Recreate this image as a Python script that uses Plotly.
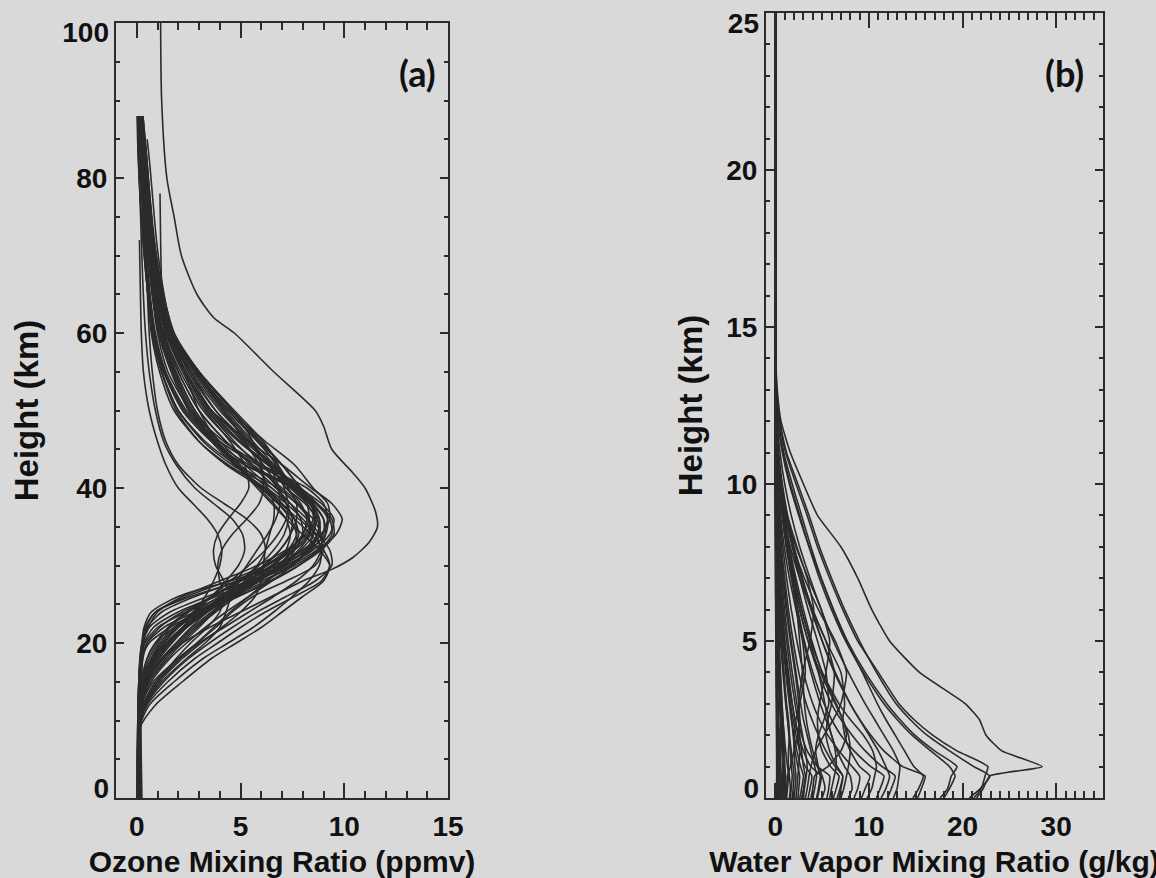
import plotly.graph_objects as go

# ---------------- Panel (a): ozone mixing ratio profiles ----------------
ozone_heights = [0, 9, 12, 15, 18, 20, 22, 24, 26, 28, 30, 32, 34, 36, 38, 40, 43, 46, 50, 55, 60, 66, 72, 78, 82, 85, 88]

ozone_profiles = [
    [0.04, 0.05, 0.08, 0.12, 0.2, 0.4, 1.0, 2.4, 4.2, 6.0, 7.6, 8.8, 9.4, 9.3, 8.6, 7.6, 6.0, 4.6, 3.2, 2.1, 1.3, 0.85, 0.6, 0.42, 0.32, 0.25, 0.18],
    [0.05, 0.06, 0.08, 0.1, 0.18, 0.3, 0.6, 1.6, 3.4, 5.4, 7.2, 8.5, 9.3, 9.5, 8.9, 7.9, 7.0, 5.9, 4.4, 2.9, 1.6, 1.0, 0.6, 0.35, 0.2, 0.12, None],
    [0.03, 0.05, 0.07, 0.1, 0.15, 0.25, 0.5, 1.2, 2.8, 4.8, 6.6, 8.0, 8.9, 9.2, 9.0, 8.2, 6.0, 4.2, 2.6, 1.5, 1.0, 0.7, 0.5, 0.4, 0.33, 0.28, None],
    [0.06, 0.07, 0.09, 0.12, 0.22, 0.5, 1.3, 2.8, 4.6, 6.2, 7.4, 8.3, 8.8, 8.7, 8.1, 7.2, 6.4, 5.4, 4.0, 2.6, 1.5, 0.95, 0.6, 0.4, 0.28, 0.2, 0.14],
    [0.04, 0.05, 0.07, 0.1, 0.2, 0.35, 0.8, 2.0, 3.8, 5.7, 7.4, 8.7, 9.6, 9.9, 9.4, 8.4, 7.0, 5.4, 3.6, 2.3, 1.4, 0.9, 0.6, 0.4, 0.3, 0.22, 0.15],
    [0.05, 0.06, 0.08, 0.11, 0.17, 0.28, 0.55, 1.0, 2.2, 4.0, 5.8, 7.2, 8.2, 8.6, 8.4, 7.8, 5.8, 4.0, 2.4, 1.4, 0.9, 0.6, 0.42, 0.32, 0.26, None, None],
    [0.04, 0.05, 0.07, 0.1, 0.16, 0.25, 0.45, 0.9, 2.4, 4.4, 6.2, 7.6, 8.4, 8.7, 8.5, 7.9, 7.0, 6.0, 4.6, 3.0, 1.7, 1.15, 0.82, 0.6, 0.5, 0.4, 0.3],
    [0.05, 0.06, 0.08, 0.12, 0.25, 0.6, 1.6, 3.0, 4.8, 6.4, 7.8, 8.9, 9.5, 9.4, 8.7, 7.6, 5.2, 3.6, 2.2, 1.3, 0.8, 0.5, 0.3, 0.15, 0.08, 0.04, 0.02],
    [0.05, 0.07, 0.15, 0.4, 1.0, 1.6, 2.4, 3.4, 4.6, 5.8, 6.8, 7.6, 8.0, 7.9, 7.4, 6.7, 5.5, 4.3, 3.0, 2.0, 1.25, 0.8, 0.55, 0.38, 0.28, 0.2, 0.15],
    [0.06, 0.08, 0.18, 0.5, 1.2, 1.9, 2.7, 3.6, 4.7, 5.8, 6.8, 7.5, 7.8, 7.6, 7.0, 6.2, 4.4, 3.0, 1.8, 1.1, 0.7, 0.5, 0.35, 0.25, 0.18, 0.13, None],
    [0.05, 0.07, 0.14, 0.35, 0.8, 1.3, 2.0, 3.0, 4.2, 5.4, 6.5, 7.4, 8.0, 8.2, 7.9, 7.2, 6.4, 5.4, 4.1, 2.7, 1.5, 0.9, 0.5, 0.26, 0.14, 0.08, 0.04],
    [0.04, 0.06, 0.12, 0.3, 0.7, 1.1, 1.8, 2.8, 4.0, 5.3, 6.5, 7.5, 8.3, 8.6, 8.4, 7.7, 6.3, 4.9, 3.4, 2.3, 1.5, 1.05, 0.8, 0.62, 0.5, 0.4, 0.3],
    [0.06, 0.08, 0.2, 0.6, 1.4, 2.1, 2.9, 3.8, 4.8, 5.9, 7.0, 7.9, 8.5, 8.6, 8.2, 7.4, 6.6, 5.6, 4.3, 2.8, 1.6, 1.0, 0.65, 0.44, 0.31, 0.22, 0.16],
    [0.05, 0.07, 0.16, 0.45, 1.1, 1.7, 2.4, 3.2, 4.1, 5.0, 5.9, 6.6, 7.1, 7.3, 7.2, 6.8, 5.8, 4.7, 3.4, 2.3, 1.5, 1.0, 0.7, 0.5, 0.36, 0.27, None],
    [0.05, 0.07, 0.13, 0.32, 0.75, 1.2, 1.9, 2.9, 4.3, 5.8, 7.1, 8.1, 8.7, 8.8, 8.4, 7.6, 5.4, 3.8, 2.3, 1.3, 0.8, 0.5, 0.3, 0.16, 0.09, 0.05, None],
    [0.06, 0.08, 0.17, 0.5, 1.3, 2.0, 2.8, 3.7, 4.6, 5.4, 6.2, 6.9, 7.4, 7.7, 7.7, 7.3, 6.7, 5.9, 4.6, 3.0, 1.8, 1.2, 0.85, 0.62, 0.48, 0.38, 0.28],
    [0.04, 0.06, 0.1, 0.25, 0.6, 1.0, 1.6, 2.5, 3.7, 5.0, 6.3, 7.3, 8.0, 8.3, 8.2, 7.7, 6.6, 5.3, 3.8, 2.5, 1.6, 1.0, 0.7, 0.48, 0.35, 0.26, 0.19],
    [0.05, 0.07, 0.15, 0.4, 0.9, 1.45, 2.2, 3.1, 4.3, 5.6, 6.9, 8.0, 8.9, 9.3, 9.2, 8.5, 7.6, 6.2, 4.5, 2.9, 1.7, 1.05, 0.68, 0.45, 0.3, 0.22, 0.16],
    [0.06, 0.08, 0.2, 0.55, 1.25, 1.9, 2.6, 3.4, 4.3, 5.2, 6.1, 6.9, 7.4, 7.5, 7.2, 6.5, 4.6, 3.2, 2.0, 1.2, 0.75, 0.5, 0.35, 0.25, 0.18, None, None],
    [0.05, 0.07, 0.14, 0.38, 0.9, 1.5, 2.3, 3.3, 4.5, 5.6, 6.6, 7.3, 7.7, 7.6, 7.0, 6.1, 4.8, 3.7, 2.6, 1.75, 1.1, 0.72, 0.5, 0.34, 0.25, 0.18, None],
    [0.08, 0.12, 0.6, 1.8, 3.2, 4.4, 5.6, 6.6, 7.5, 8.3, 8.8, 8.9, 8.6, 8.0, 7.2, 6.3, 5.0, 3.8, 2.6, 1.7, 1.1, 0.72, 0.5, 0.35, 0.25, 0.18, None],
    [0.07, 0.1, 0.5, 1.5, 2.8, 3.9, 5.0, 6.2, 7.6, 8.9, 9.3, 9.0, 8.4, 7.6, 6.8, 6.0, 4.3, 3.0, 1.9, 1.2, 0.8, 0.55, 0.38, 0.26, 0.19, 0.14, 0.1],
    [0.08, 0.11, 0.45, 1.3, 2.5, 3.5, 4.6, 5.8, 7.2, 8.6, 9.4, 9.3, 8.7, 7.8, 6.9, 6.0, 4.7, 3.6, 2.5, 1.65, 1.05, 0.7, 0.48, 0.33, 0.24, None, None],
    [0.06, 0.09, 0.4, 1.1, 2.2, 3.1, 4.1, 5.0, 5.7, 6.0, 6.1, 6.2, 6.4, 6.6, 6.6, 6.3, 5.9, 5.2, 4.2, 2.8, 1.6, 1.0, 0.68, 0.46, 0.33, 0.24, 0.17],
    [0.07, 0.1, 0.3, 0.9, 2.0, 2.9, 3.8, 4.6, 5.6, 7.2, 8.6, 9.0, 8.8, 8.2, 7.4, 6.5, 5.2, 4.0, 2.8, 1.85, 1.2, 0.78, 0.53, 0.37, 0.27, 0.2, None],
    [0.06, 0.09, 0.35, 1.0, 1.9, 2.6, 3.4, 4.0, 4.2, 4.0, 3.9, 4.1, 4.6, 5.3, 5.9, 6.1, 6.0, 5.6, 4.6, 3.0, 1.7, 1.1, 0.75, 0.52, 0.38, 0.28, 0.2],
    [0.07, 0.1, 0.4, 1.2, 2.4, 3.3, 4.0, 4.3, 4.5, 4.2, 3.8, 3.7, 3.9, 4.4, 5.0, 5.4, 5.2, 4.5, 3.3, 2.2, 1.4, 0.92, 0.63, 0.44, 0.32, None, None],
    [0.05, 0.07, 0.15, 0.4, 1.0, 1.6, 2.2, 2.8, 3.3, 3.7, 4.0, 4.1, 3.9, 3.4, 2.7, 2.0, 1.4, 1.0, 0.6, 0.32, 0.22, 0.17, 0.13, None, None, None, None],
    [0.05, 0.07, 0.12, 0.3, 0.8, 1.3, 2.0, 2.8, 3.6, 4.3, 4.9, 5.2, 5.1, 4.6, 3.7, 2.8, 1.9, 1.3, 0.9, 0.6, 0.42, 0.3, 0.22, 0.15, 0.1, 0.06, 0.04],
    [0.05, 0.07, 0.14, 0.35, 0.9, 1.5, 2.3, 3.2, 4.1, 5.0, 5.8, 6.2, 6.0, 5.3, 4.2, 3.1, 2.0, 1.4, 1.0, 0.75, 0.6, 0.5, 0.42, 0.36, 0.3, 0.25, 0.2],
    [0.05, 0.07, 0.15, 0.4, 1.0, 1.6, 2.4, 3.4, 4.6, 5.8, 6.9, 7.8, 8.3, 8.3, 7.8, 7.0, 5.6, 4.3, 3.0, 2.0, 1.35, 1.2, 1.15, 1.12, None, None, None],
    [0.15, 0.12, 0.14, 0.18, 0.22, 0.25, 0.35, 0.7, 2.0, 4.5, 6.8, 8.3, 9.1, 9.2, 8.7, 7.9, 6.4, 5.0, 3.5, 2.4, 1.5, 1.0, 0.7, 0.5, 0.38, 0.3, None],
    [0.2, 0.18, 0.2, 0.22, 0.25, 0.3, 0.4, 0.9, 2.6, 5.0, 7.0, 8.2, 8.8, 8.8, 8.3, 7.5, 6.8, 5.8, 4.4, 2.9, 1.7, 1.1, 0.75, 0.52, 0.4, 0.3, 0.24],
    [0.1, 0.1, 0.2, 0.8, 2.0, 3.0, 4.2, 5.4, 6.6, 7.7, 8.5, 8.9, 8.9, 8.5, 7.7, 6.8, 4.8, 3.3, 2.0, 1.2, 0.75, 0.55, 0.38, 0.27, 0.2, 0.15, 0.11],
    [0.12, 0.15, 0.9, 2.2, 3.6, 4.8, 6.0, 7.0, 8.0, 9.0, 9.3, 8.8, 8.0, 7.2, 6.5, 5.8, 4.8, 3.8, 2.7, 1.8, 1.15, 0.75, 0.5, 0.34, 0.25, 0.18, None],
    [0.03, 0.05, 0.1, 0.3, 0.8, 1.4, 2.2, 3.2, 4.4, 5.6, 6.6, 7.2, 7.4, 7.2, 6.6, 5.9, 4.8, 3.9, 3.0, 2.3, 1.7, 1.25, 0.95, 0.75, 0.62, 0.5, None],
    [0.02, 0.04, 0.08, 0.2, 0.5, 0.9, 1.5, 2.4, 3.6, 4.9, 6.2, 7.3, 8.1, 8.5, 8.4, 7.8, 6.5, 5.2, 3.6, 2.3, 1.4, 0.85, 0.5, 0.3, 0.18, 0.1, 0.06],
    [0.25, 0.2, 0.22, 0.3, 0.5, 0.9, 1.8, 3.2, 4.9, 6.5, 7.8, 8.7, 9.1, 9.0, 8.4, 7.5, 5.2, 3.7, 2.3, 1.35, 0.85, 0.6, 0.42, 0.3, 0.22, 0.17, None],
    [0.08, 0.1, 0.3, 1.0, 2.1, 2.9, 3.7, 4.5, 5.4, 6.3, 7.1, 7.6, 7.7, 7.4, 6.8, 6.0, 4.9, 3.9, 2.8, 1.9, 1.25, 0.82, 0.56, 0.4, 0.3, 0.22, 0.16],
    [0.1, 0.12, 0.25, 0.7, 1.6, 2.4, 3.3, 4.3, 5.4, 6.5, 7.5, 8.2, 8.5, 8.3, 7.7, 6.9, 6.4, 5.5, 4.2, 2.8, 1.6, 1.0, 0.65, 0.44, 0.32, 0.23, None],
    [0.18, 0.15, 0.17, 0.2, 0.3, 0.5, 1.1, 2.2, 3.8, 5.6, 7.2, 8.4, 9.0, 9.0, 8.5, 7.7, 6.3, 5.0, 3.6, 2.5, 1.65, 1.1, 0.78, 0.56, 0.42, 0.33, 0.25],
    [0.05, 0.07, 0.12, 0.3, 0.7, 1.2, 1.9, 2.7, 3.6, 4.5, 5.4, 6.2, 6.8, 7.2, 7.3, 7.1, 6.8, 6.1, 4.7, 3.0, 1.8, 1.2, 0.82, 0.58, 0.42, 0.3, 0.22],
    [0.06, 0.08, 0.2, 0.6, 1.5, 2.2, 3.0, 3.7, 4.3, 4.8, 5.3, 5.8, 6.3, 6.7, 6.9, 6.8, 6.1, 5.1, 3.8, 2.6, 1.7, 1.12, 0.78, 0.55, 0.4, 0.3, None],
]

ozone_outlier_heights = [0, 9, 12, 15, 18, 20, 22, 24, 26, 28, 29.5, 31, 33, 35, 37, 40, 42, 45, 48, 50, 55, 60, 62, 65, 70, 75, 80, 90, 100]
ozone_outlier_values = [0.05, 0.07, 0.2, 0.5, 1.2, 2.2, 3.5, 5.0, 6.5, 8.0, 9.4, 10.4, 11.2, 11.6, 11.5, 11.0, 10.4, 9.4, 9.0, 8.6, 6.6, 4.7, 3.7, 2.9, 2.15, 1.8, 1.45, 1.2, 1.15]

# ---------------- Panel (b): water vapour mixing ratio profiles ----------------
wv_heights = [0, 0.3, 0.7, 1.0, 1.5, 2, 2.5, 3, 4, 5, 6, 7, 8, 9, 10, 11, 12, 13, 14, 15, 25]

wv_profiles = [
    [21.5, 22.2, 22.9, 28.5, 24.2, 22.5, 21.8, 20.3, 15.4, 12.2, 10.3, 8.8, 7.0, 4.5, 3.0, 1.6, 0.6, 0.2, 0.05, 0.01, 0.0],
    [20.7, 21.9, 22.9, 21.2, 18.6, 16.2, 14.4, 12.9, 10.8, 9.0, 7.4, 6.0, 4.7, 3.6, 2.4, 1.2, 0.5, 0.15, 0.04, 0.0, 0.0],
    [21.2, 22.0, 22.4, 22.7, 19.4, 16.8, 14.8, 13.2, 11.0, 8.8, 7.2, 5.8, 4.5, 3.4, 2.2, 1.1, 0.45, 0.12, 0.03, 0.0, 0.0],
    [17.6, 18.4, 18.8, 19.4, 17.0, 14.9, 13.3, 11.9, 9.6, 7.7, 6.2, 4.9, 3.8, 2.8, 1.8, 0.9, 0.35, 0.1, 0.02, 0.0, 0.0],
    [18.0, 18.6, 19.2, 18.6, 16.6, 14.6, 13.0, 11.6, 9.4, 7.5, 6.0, 4.7, 3.6, 2.6, 1.6, 0.8, 0.3, 0.08, 0.02, 0.0, 0.0],
    [14.7, 15.3, 15.8, 14.8, 13.8, 12.8, 11.8, 10.9, 9.3, 7.6, 6.2, 4.9, 3.6, 2.5, 1.5, 0.75, 0.3, 0.08, 0.02, 0.0, 0.0],
    [12.6, 13.0, 13.2, 13.3, 12.6, 11.6, 10.6, 9.6, 7.8, 6.2, 4.9, 3.7, 2.6, 1.7, 1.0, 0.5, 0.2, 0.05, 0.01, 0.0, 0.0],
    [11.3, 11.8, 12.2, 11.8, 11.0, 10.0, 9.0, 8.0, 6.3, 5.0, 3.9, 2.9, 2.0, 1.3, 0.75, 0.35, 0.12, 0.03, 0.0, 0.0, 0.0],
    [9.8, 10.3, 10.6, 10.8, 10.4, 9.4, 8.0, 6.8, 5.0, 3.9, 3.0, 2.2, 1.5, 0.95, 0.55, 0.25, 0.08, 0.02, 0.0, 0.0, 0.0],
    [9.2, 9.6, 10.1, 9.0, 8.0, 7.4, 7.2, 7.4, 7.0, 5.4, 4.0, 2.8, 1.9, 1.2, 0.65, 0.3, 0.1, 0.02, 0.0, 0.0, 0.0],
    [7.8, 8.2, 8.0, 7.4, 6.6, 6.0, 5.6, 5.3, 4.6, 3.7, 2.8, 2.1, 1.4, 0.9, 0.5, 0.22, 0.07, 0.02, 0.0, 0.0, 0.0],
    [6.6, 6.9, 7.2, 6.6, 5.8, 5.4, 5.6, 6.0, 6.3, 5.4, 3.9, 2.6, 1.6, 0.95, 0.5, 0.22, 0.07, 0.02, 0.0, 0.0, 0.0],
    [6.2, 6.5, 6.8, 5.9, 5.0, 4.6, 4.5, 4.7, 5.4, 5.8, 4.9, 3.5, 2.2, 1.2, 0.6, 0.25, 0.08, 0.02, 0.0, 0.0, 0.0],
    [5.0, 5.3, 5.0, 4.6, 4.3, 4.6, 5.2, 5.7, 5.4, 4.5, 3.5, 2.6, 1.8, 1.1, 0.6, 0.26, 0.08, 0.02, 0.0, 0.0, 0.0],
    [4.4, 4.6, 4.8, 4.5, 4.0, 3.6, 3.3, 3.1, 2.9, 2.6, 2.3, 1.9, 1.4, 0.9, 0.5, 0.22, 0.07, 0.02, 0.0, 0.0, 0.0],
    [3.8, 4.0, 4.2, 5.6, 7.0, 7.6, 7.2, 6.4, 4.8, 3.5, 2.6, 1.9, 1.3, 0.8, 0.45, 0.2, 0.06, 0.02, 0.0, 0.0, 0.0],
    [3.2, 3.4, 3.6, 3.8, 4.3, 5.2, 6.2, 7.0, 7.6, 6.4, 4.6, 3.1, 1.9, 1.0, 0.5, 0.2, 0.06, 0.02, 0.0, 0.0, 0.0],
    [2.8, 3.0, 3.2, 3.0, 2.8, 2.6, 2.5, 2.5, 2.9, 3.7, 4.1, 3.4, 2.3, 1.3, 0.6, 0.25, 0.08, 0.02, 0.0, 0.0, 0.0],
    [8.4, 8.8, 9.0, 8.2, 6.8, 5.6, 4.7, 4.0, 3.0, 2.3, 1.7, 1.2, 0.8, 0.5, 0.28, 0.12, 0.04, 0.01, 0.0, 0.0, 0.0],
    [10.8, 11.2, 11.6, 10.2, 8.4, 7.0, 6.0, 5.2, 4.0, 3.1, 2.4, 1.8, 1.2, 0.75, 0.42, 0.18, 0.06, 0.02, 0.0, 0.0, 0.0],
    [7.0, 7.3, 7.6, 7.8, 8.0, 7.8, 7.2, 6.5, 5.0, 3.8, 2.8, 2.0, 1.35, 0.85, 0.48, 0.2, 0.06, 0.02, 0.0, 0.0, 0.0],
    [5.8, 6.0, 6.3, 6.5, 6.4, 6.0, 5.4, 4.8, 3.8, 3.0, 2.3, 1.7, 1.15, 0.72, 0.4, 0.18, 0.05, 0.01, 0.0, 0.0, 0.0],
    [1.8, 1.9, 2.0, 1.9, 1.7, 1.5, 1.3, 1.1, 0.8, 0.55, 0.38, 0.25, 0.15, 0.08, 0.04, 0.02, 0.01, 0.0, 0.0, 0.0, 0.0],
    [1.2, 1.3, 1.4, 1.3, 1.1, 0.95, 0.8, 0.7, 0.5, 0.35, 0.24, 0.15, 0.09, 0.05, 0.03, 0.01, 0.0, 0.0, 0.0, 0.0, 0.0],
    [0.8, 0.85, 0.9, 0.85, 0.75, 0.65, 0.55, 0.45, 0.32, 0.22, 0.15, 0.1, 0.06, 0.03, 0.02, 0.01, 0.0, 0.0, 0.0, 0.0, 0.0],
    [0.5, 0.55, 0.6, 0.55, 0.5, 0.42, 0.36, 0.3, 0.2, 0.14, 0.09, 0.06, 0.04, 0.02, 0.01, 0.0, 0.0, 0.0, 0.0, 0.0, 0.0],
    [0.3, 0.32, 0.35, 0.33, 0.3, 0.26, 0.22, 0.18, 0.12, 0.08, 0.05, 0.03, 0.02, 0.01, 0.0, 0.0, 0.0, 0.0, 0.0, 0.0, 0.0],
    [2.6, 2.8, 3.0, 2.7, 2.3, 2.0, 1.7, 1.5, 1.1, 0.8, 0.55, 0.36, 0.22, 0.12, 0.06, 0.03, 0.01, 0.0, 0.0, 0.0, 0.0],
    [3.5, 3.7, 3.9, 3.2, 2.6, 2.2, 1.9, 1.6, 1.2, 0.9, 0.65, 0.45, 0.28, 0.16, 0.08, 0.04, 0.02, 0.0, 0.0, 0.0, 0.0],
    [1.5, 1.6, 1.5, 1.4, 1.4, 1.5, 1.4, 1.2, 0.9, 0.6, 0.4, 0.26, 0.16, 0.09, 0.05, 0.02, 0.01, 0.0, 0.0, 0.0, 0.0],
    [0.2, 0.22, 0.25, 0.24, 0.22, 0.2, 0.17, 0.14, 0.1, 0.07, 0.05, 0.03, 0.02, 0.01, 0.0, 0.0, 0.0, 0.0, 0.0, 0.0, 0.0],
    [1.0, 1.05, 1.1, 1.0, 0.9, 0.8, 0.7, 0.6, 0.45, 0.32, 0.22, 0.14, 0.08, 0.05, 0.02, 0.01, 0.0, 0.0, 0.0, 0.0, 0.0],
    [0.6, 0.65, 0.7, 0.75, 0.8, 0.7, 0.6, 0.5, 0.35, 0.25, 0.17, 0.11, 0.07, 0.04, 0.02, 0.01, 0.0, 0.0, 0.0, 0.0, 0.0],
    [4.5, 4.7, 4.9, 3.8, 3.0, 2.5, 2.1, 1.8, 1.3, 0.95, 0.68, 0.46, 0.3, 0.18, 0.1, 0.05, 0.02, 0.0, 0.0, 0.0, 0.0],
    [5.5, 5.7, 5.8, 4.5, 3.4, 2.8, 2.4, 2.1, 1.6, 1.2, 0.85, 0.58, 0.38, 0.23, 0.12, 0.06, 0.02, 0.0, 0.0, 0.0, 0.0],
    [2.2, 2.3, 2.4, 2.5, 2.6, 2.4, 2.1, 1.8, 1.4, 1.0, 0.7, 0.48, 0.3, 0.17, 0.09, 0.04, 0.01, 0.0, 0.0, 0.0, 0.0],
    [3.0, 3.1, 3.3, 3.4, 3.2, 2.9, 2.6, 2.3, 1.8, 1.35, 0.98, 0.68, 0.44, 0.26, 0.14, 0.07, 0.03, 0.01, 0.0, 0.0, 0.0],
    [0.4, 0.42, 0.45, 0.43, 0.4, 0.36, 0.3, 0.25, 0.17, 0.12, 0.08, 0.05, 0.03, 0.02, 0.01, 0.0, 0.0, 0.0, 0.0, 0.0, 0.0],
    [1.6, 1.7, 1.8, 1.7, 1.6, 1.45, 1.3, 1.15, 0.9, 0.7, 0.5, 0.34, 0.2, 0.11, 0.05, 0.02, 0.01, 0.0, 0.0, 0.0, 0.0],
    [0.9, 0.95, 1.0, 1.0, 0.95, 0.9, 0.82, 0.72, 0.55, 0.4, 0.28, 0.18, 0.11, 0.06, 0.03, 0.01, 0.0, 0.0, 0.0, 0.0, 0.0],
    [0.7, 0.75, 0.8, 0.78, 0.72, 0.66, 0.6, 0.53, 0.4, 0.3, 0.2, 0.13, 0.08, 0.04, 0.02, 0.01, 0.0, 0.0, 0.0, 0.0, 0.0],
    [2.4, 2.5, 2.6, 2.4, 2.1, 1.9, 1.75, 1.6, 1.3, 1.0, 0.75, 0.52, 0.34, 0.2, 0.1, 0.05, 0.02, 0.0, 0.0, 0.0, 0.0],
    [4.0, 4.2, 4.4, 4.2, 3.8, 3.4, 3.0, 2.7, 2.2, 1.7, 1.25, 0.88, 0.58, 0.35, 0.18, 0.08, 0.03, 0.01, 0.0, 0.0, 0.0],
    [6.8, 7.0, 7.2, 6.4, 5.4, 4.6, 3.9, 3.3, 2.5, 1.9, 1.4, 1.0, 0.65, 0.4, 0.22, 0.1, 0.04, 0.01, 0.0, 0.0, 0.0],
    [1.1, 1.2, 1.3, 1.6, 2.0, 2.4, 2.6, 2.5, 2.1, 1.6, 1.15, 0.78, 0.5, 0.3, 0.15, 0.07, 0.02, 0.0, 0.0, 0.0, 0.0],
    [0.35, 0.4, 0.45, 0.5, 0.55, 0.6, 0.55, 0.5, 0.4, 0.3, 0.22, 0.15, 0.09, 0.05, 0.02, 0.01, 0.0, 0.0, 0.0, 0.0, 0.0],
    [2.0, 2.1, 2.2, 2.1, 2.0, 2.0, 2.2, 2.6, 3.2, 2.9, 2.2, 1.5, 0.95, 0.55, 0.28, 0.12, 0.04, 0.01, 0.0, 0.0, 0.0],
    [12.0, 12.4, 12.8, 11.4, 9.6, 8.2, 7.0, 6.0, 4.6, 3.5, 2.6, 1.9, 1.3, 0.8, 0.45, 0.2, 0.06, 0.02, 0.0, 0.0, 0.0],
    [15.2, 15.6, 16.0, 13.6, 11.6, 10.2, 9.0, 8.0, 6.4, 5.0, 3.8, 2.8, 1.9, 1.2, 0.65, 0.3, 0.1, 0.03, 0.0, 0.0, 0.0],
    [0.1, 0.12, 0.14, 0.14, 0.13, 0.12, 0.1, 0.09, 0.07, 0.05, 0.03, 0.02, 0.01, 0.0, 0.0, 0.0, 0.0, 0.0, 0.0, 0.0, 0.0],
]

# ---------------- axis settings ----------------
ozone_x_ticks = [0, 5, 10, 15]
ozone_y_ticks = [0, 20, 40, 60, 80, 100]
ozone_y_labels = ["", "20", "40", "60", "80", ""]
wv_x_ticks = [0, 10, 20, 30]
wv_y_ticks = [0, 5, 10, 15, 20, 25]
wv_y_labels = ["", "5", "10", "15", "20", ""]

BG = "#d9d9d9"
INK = "#2b2b2b"
FONT = "Liberation Sans"

fig = go.Figure()

line_style = dict(color=INK, width=1.6, shape="spline", smoothing=0.7)
for prof in ozone_profiles:
    fig.add_trace(go.Scatter(x=prof, y=ozone_heights, mode="lines", line=line_style,
                             xaxis="x", yaxis="y", showlegend=False, hoverinfo="skip"))
fig.add_trace(go.Scatter(x=ozone_outlier_values, y=ozone_outlier_heights, mode="lines", line=line_style,
                         xaxis="x", yaxis="y", showlegend=False, hoverinfo="skip"))

wv_style = dict(color=INK, width=1.6, shape="spline", smoothing=0.5)
for prof in wv_profiles:
    fig.add_trace(go.Scatter(x=prof, y=wv_heights, mode="lines", line=wv_style,
                             xaxis="x2", yaxis="y2", showlegend=False, hoverinfo="skip"))

# empty traces so that the label-only overlay axes are drawn
for xa, ya in [("x", "y3"), ("x", "y4"), ("x2", "y5"), ("x2", "y6")]:
    fig.add_trace(go.Scatter(x=[], y=[], mode="lines", xaxis=xa, yaxis=ya,
                             showlegend=False, hoverinfo="skip"))

tickfont = dict(family=FONT, size=28, color="#111111", weight="bold")
xtitlefont = dict(family=FONT, size=30, color="#111111", weight="bold")
ytitlefont = dict(family=FONT, size=33, color="#111111", weight="bold")


def xaxis(domain, rng, tickvals, minor_dtick, anchor, title):
    return dict(domain=domain, range=rng, tickmode="array", tickvals=tickvals,
                ticks="inside", ticklen=15, tickwidth=2, tickcolor=INK,
                minor=dict(ticks="inside", ticklen=7, tickwidth=1.5, tickcolor=INK,
                           tickmode="linear", tick0=0, dtick=minor_dtick),
                showline=True, linecolor=INK, linewidth=2, mirror="ticks",
                showgrid=False, zeroline=False, tickfont=tickfont,
                ticklabelstandoff=2, ticklabeloverflow="allow", anchor=anchor, automargin=False,
                fixedrange=True,
                title=dict(text=title, font=xtitlefont, standoff=12))


def yaxis(domain, rng, tickvals, ticktext, minor_dtick, anchor, title, standoff):
    return dict(domain=domain, range=rng, tickmode="array", tickvals=tickvals, ticktext=ticktext,
                ticks="inside", ticklen=8, tickwidth=2, tickcolor=INK,
                minor=dict(ticks="inside", ticklen=4, tickwidth=1.5, tickcolor=INK,
                           tickmode="linear", tick0=0, dtick=minor_dtick),
                showline=True, linecolor=INK, linewidth=2, mirror="ticks",
                showgrid=False, zeroline=False, tickfont=tickfont,
                ticklabelstandoff=1, ticklabeloverflow="allow", anchor=anchor, automargin=False,
                fixedrange=True,
                title=dict(text=title, font=ytitlefont, standoff=standoff))


def end_label_axis(domain, rng, val, text, shift, anchor, over):
    # label-only axis: the end labels are nudged inward, as in the original figure
    return dict(domain=domain, range=rng, tickmode="array", tickvals=[val], ticktext=[text],
                ticks="", showline=False, showgrid=False, zeroline=False, showticklabels=True,
                tickfont=tickfont, ticklabelstandoff=6, ticklabelshift=shift,
                ticklabeloverflow="allow", anchor=anchor, overlaying=over,
                side="left", automargin=False, fixedrange=True)


W, H = 1156, 878
ax_a = [116 / W, 448 / W]
ay_a = [80 / H, 855 / H]
ax_b = [766 / W, 1103 / W]
ay_b = [80 / H, 865 / H]

fig.update_layout(
    width=W, height=H,
    margin=dict(l=0, r=0, t=0, b=0),
    paper_bgcolor=BG, plot_bgcolor=BG,
    template="none",
    xaxis=xaxis(ax_a, [-1, 15], ozone_x_ticks, 1, "y", "Ozone Mixing Ratio (ppmv)"),
    yaxis=yaxis(ay_a, [0, 100], ozone_y_ticks, ozone_y_labels, 5, "x", "Height (km)", 28),
    xaxis2=xaxis(ax_b, [-1, 35], wv_x_ticks, 1, "y2", "Water Vapor Mixing Ratio (g/kg)"),
    yaxis2=yaxis(ay_b, [0, 25], wv_y_ticks, wv_y_labels, 1, "x2", "Height (km)", 14),
    yaxis3=end_label_axis(ay_a, [0, 100], 0, "0", -10, "x", "y"),
    yaxis4=end_label_axis(ay_a, [0, 100], 100, "100", 9, "x", "y"),
    yaxis5=end_label_axis(ay_b, [0, 25], 0, "0", -10, "x2", "y2"),
    yaxis6=end_label_axis(ay_b, [0, 25], 25, "25", 10, "x2", "y2"),
    annotations=[
        dict(text="(a)", xref="paper", yref="paper", x=417 / W, y=1 - 73 / H,
             showarrow=False, xanchor="center", yanchor="middle",
             font=dict(family="Lato", size=36, color="#111111", weight="bold")),
        dict(text="(b)", xref="paper", yref="paper", x=1064 / W, y=1 - 73 / H,
             showarrow=False, xanchor="center", yanchor="middle",
             font=dict(family="Lato", size=36, color="#111111", weight="bold")),
    ],
)

fig.write_html("out.html", config={"displayModeBar": False},
               post_script="document.body.style.margin='0';document.body.style.background='#d9d9d9';")
